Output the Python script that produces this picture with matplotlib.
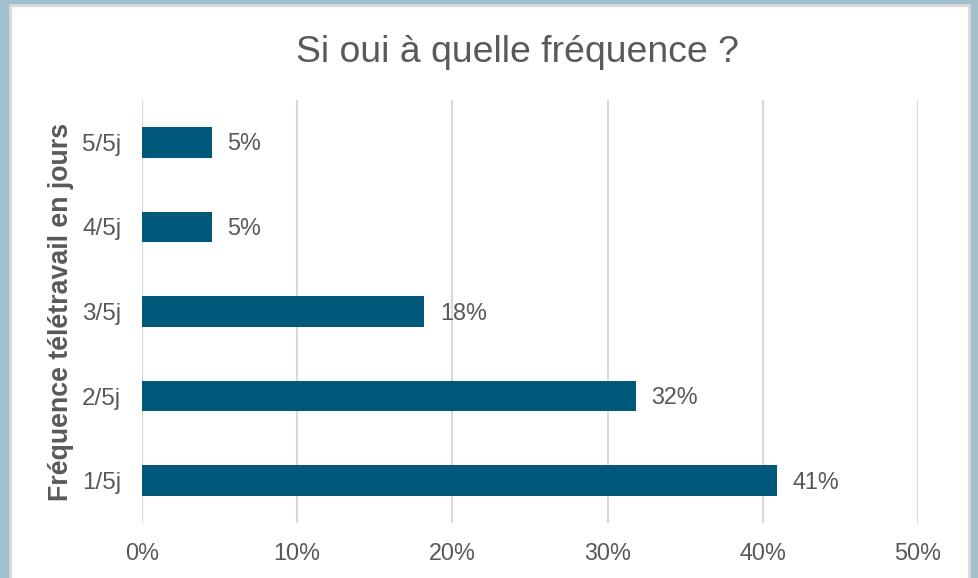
import matplotlib

matplotlib.use("Agg")

import matplotlib.pyplot as plt
from matplotlib.patches import Rectangle

# data (bottom to top)
categories = ["1/5j", "2/5j", "3/5j", "4/5j", "5/5j"]
values = [40.9, 31.8, 18.2, 4.5, 4.5]
value_labels = ["41%", "32%", "18%", "5%", "5%"]
x_ticks = [0, 10, 20, 30, 40, 50]
x_tick_labels = ["0%", "10%", "20%", "30%", "40%", "50%"]

TEXT = "#595959"
BAR = "#00587A"
GRID = "#D9D9D9"

plt.rcParams["font.family"] = ["Liberation Sans", "DejaVu Sans"]

W, H = 979, 578
fig = plt.figure(figsize=(W / 100, H / 100), dpi=100, facecolor="#A2C0CC")

# white chart panel inside the blue frame
fig.patches.append(
    Rectangle((10 / W, -0.01), 959 / W, 1.01 - 5 / H, transform=fig.transFigure,
              facecolor="white", edgecolor=GRID, linewidth=2.0, zorder=-1)
)

ax = fig.add_axes([142 / W, 1 - 523 / H, (918 - 142) / W, (523 - 100) / H])
ax.set_facecolor("none")

ax.barh(categories, values, height=0.36, color=BAR, zorder=3)
for i, (v, lab) in enumerate(zip(values, value_labels)):
    ax.text(v + 1.0, i - 0.02, lab, va="center", ha="left", fontsize=16.8, color=TEXT)

ax.set_xlim(0, 50)
ax.set_ylim(-0.5, len(categories) - 0.5)
ax.set_xticks(x_ticks)
ax.set_xticklabels(x_tick_labels)
ax.grid(axis="x", color=GRID, linewidth=1.5, zorder=0)
ax.tick_params(axis="x", length=0, labelsize=16.8, labelcolor=TEXT, pad=14)
ax.tick_params(axis="y", length=0, labelsize=17.5, labelcolor=TEXT, pad=15)
for s in ax.spines.values():
    s.set_visible(False)

ax.set_ylabel("Fréquence télétravail en jours", fontsize=19.3, fontweight="bold",
              color=TEXT, labelpad=6)

fig.text(517 / W, 1 - 52 / H, "Si oui à quelle fréquence ?", ha="center", va="center",
         fontsize=26.9, color=TEXT)

fig.savefig("out.png", dpi=100, facecolor=fig.get_facecolor())
